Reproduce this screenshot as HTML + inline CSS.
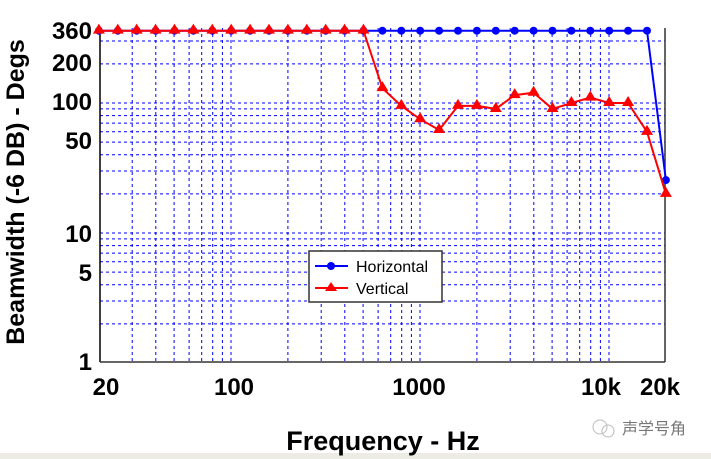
<!DOCTYPE html>
<html><head><meta charset="utf-8"><style>
html,body{margin:0;padding:0;background:#fff;width:711px;height:459px;overflow:hidden}
svg{display:block}
.t{font-family:"Liberation Sans",sans-serif;font-weight:bold;font-size:24px;fill:#000}
</style></head><body>
<svg id="s" width="711" height="459" xmlns="http://www.w3.org/2000/svg">
<rect width="711" height="459" fill="#fff"/>
<rect x="0" y="453" width="711" height="6" fill="#ecebe4"/>
<g id="grid"></g>
<line x1="100" y1="28" x2="100" y2="362" stroke="#000" stroke-width="1.5"/>
<line x1="100" y1="362" x2="665" y2="362" stroke="#333" stroke-width="1.5"/>
<line x1="665" y1="28" x2="665" y2="362" stroke="#333" stroke-width="1.5"/>
<g id="data"></g>
<g class="t" text-anchor="end">
<text x="92" y="39">360</text>
<text x="92" y="71">200</text>
<text x="92" y="110">100</text>
<text x="92" y="149">50</text>
<text x="92" y="242">10</text>
<text x="92" y="281">5</text>
<text x="92" y="370">1</text>
</g>
<g class="t" text-anchor="middle">
<text x="106" y="395">20</text>
<text x="234" y="395">100</text>
<text x="419" y="395">1000</text>
<text x="601" y="395">10k</text>
<text x="660" y="395">20k</text>
<text x="383" y="450" font-size="27">Frequency - Hz</text>
<text transform="translate(24,192) rotate(-90)" font-size="25">Beamwidth (-6 DB) - Degs</text>
</g>
<rect x="309" y="251" width="133" height="51" fill="#fff" stroke="#333" stroke-width="1.5"/>
<line x1="315" y1="266" x2="348" y2="266" stroke="#00f" stroke-width="2"/>
<circle cx="331" cy="266" r="4" fill="#00f"/>
<line x1="315" y1="288" x2="348" y2="288" stroke="#f00" stroke-width="2"/>
<polygon points="331,282 337,291 325,291" fill="#f00"/>
<g font-family="Liberation Sans,sans-serif" font-size="16" fill="#000">
<text x="356" y="272">Horizontal</text>
<text x="356" y="294">Vertical</text>
</g>
<text x="622" y="434" font-family="Liberation Sans,'Noto Sans CJK SC',sans-serif" font-size="16" fill="#777">声学号角</text>
<circle cx="600" cy="427" r="7" fill="none" stroke="#bbb"/>
<circle cx="608" cy="431" r="6" fill="none" stroke="#bbb"/>
</svg>
<script>
function X(f){return 420+189*Math.log10(f/1000);}
function Y(v){return 233-130*Math.log10(v/10);}
var g=document.getElementById('grid'),h='';
var xs=[30,40,50,60,70,80,90,100,200,300,400,500,600,700,800,900,1000,2000,3000,4000,5000,6000,7000,8000,9000,10000];
xs.forEach(function(f){var x=X(f).toFixed(1);h+='<line x1="'+x+'" y1="28" x2="'+x+'" y2="361" stroke="#00f" stroke-dasharray="3,3"/>';});
var ys=[2,3,4,5,6,7,8,9,10,20,30,40,50,60,70,80,90,100,200,300];
ys.forEach(function(v){var y=Y(v).toFixed(1);h+='<line x1="100" y1="'+y+'" x2="665" y2="'+y+'" stroke="#00f" stroke-dasharray="3,3"/>';});
g.innerHTML=h;
var fr=[],H=[],V=[];
for(var i=0;i<=30;i++){fr.push(20*Math.pow(10,i/10));}
var vv=[130,95,75,62,95,95,90,115,120,90,100,110,100,100,60,20];
for(var i=0;i<=30;i++){H.push(i<30?360:25.5);V.push(i<=14?360:vv[i-15]);}
var d=document.getElementById('data'),s='';
var ph=fr.map(function(f,i){return X(f).toFixed(1)+','+Y(H[i]).toFixed(1)}).join(' ');
var pv=fr.map(function(f,i){return X(f).toFixed(1)+','+Y(V[i]).toFixed(1)}).join(' ');
s+='<polyline points="'+ph+'" fill="none" stroke="#00f" stroke-width="2"/>';
fr.forEach(function(f,i){s+='<circle cx="'+X(f).toFixed(1)+'" cy="'+Y(H[i]).toFixed(1)+'" r="4" fill="#00f"/>';});
s+='<polyline points="'+pv+'" fill="none" stroke="#f00" stroke-width="2"/>';
fr.forEach(function(f,i){var x=X(f),y=Y(V[i]);s+='<polygon points="'+x+','+(y-7)+' '+(x+6)+','+(y+3)+' '+(x-6)+','+(y+3)+'" fill="#f00"/>';});
d.innerHTML=s;
</script>
</body></html>
